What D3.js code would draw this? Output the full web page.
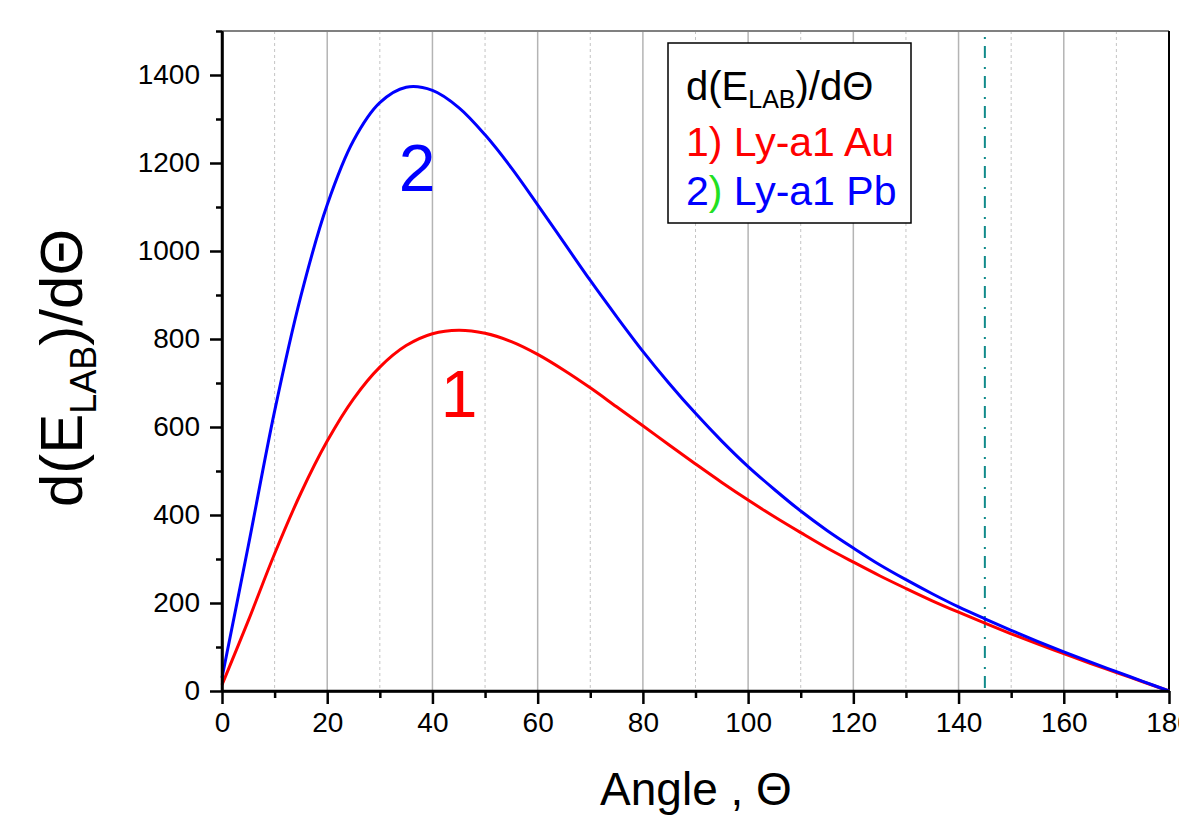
<!DOCTYPE html>
<html>
<head>
<meta charset="utf-8">
<script src="https://cdn.jsdelivr.net/npm/d3@7"></script>
<style>
  html, body { margin: 0; padding: 0; background: #fff; }
  svg { display: block; font-family: "Liberation Sans", Arial, sans-serif; }
</style>
</head>
<body>
<svg id="chart" width="1179" height="819"></svg>
<script>
// ---- data ----
const angles = [0,5,10,15,20,25,30,35,40,45,50,55,60,65,70,75,80,85,90,95,100,105,110,115,120,125,130,135,140,145,150,155,160,165,170,175,180];
const auValues = [14,160,312,450,568,664,736,785,812,820,813,794,765,729,689,646,603,559,516,474,434,396,360,325,293,262,233,205,179,154,130,107,85,63,42,21,0];
const pbValues = [30,330,636,898,1105,1251,1337,1372,1365,1326,1264,1189,1105,1019,933,851,772,699,631,568,510,458,409,365,325,287,253,221,191,164,138,113,89,66,44,22,0];
const xTicks = [0,20,40,60,80,100,120,140,160,180];
const xMinorTicks = [10,30,50,70,90,110,130,150,170];
const yTicks = [0,200,400,600,800,1000,1200,1400];
const yMinorTicks = [100,300,500,700,900,1100,1300,1500];
const markerAngle = [145];
const legendTitle = "d(E";
const legendEntries = ["1) Ly-a1 Au", "2) Ly-a1 Pb"];

// ---- layout ----
const svg = d3.select("#chart");
const L = 222, R = 1169, T = 31, B = 691;
const x = d3.scaleLinear().domain([0,180]).range([L,R]);
const y = d3.scaleLinear().domain([0,1500]).range([B,T]);

// grid lines
svg.append("g").selectAll("line").data(xMinorTicks).join("line")
  .attr("x1", d => x(d)).attr("x2", d => x(d)).attr("y1", T).attr("y2", B)
  .attr("stroke", "#c4c4c4").attr("stroke-width", 1).attr("stroke-dasharray", "3,3");
svg.append("g").selectAll("line").data(xTicks.filter(d => d > 0 && d < 180)).join("line")
  .attr("x1", d => x(d)).attr("x2", d => x(d)).attr("y1", T).attr("y2", B)
  .attr("stroke", "#b4b4b4").attr("stroke-width", 1.5);

// frame: top (gray), right (black)
svg.append("line").attr("x1", L).attr("x2", R).attr("y1", T).attr("y2", T)
  .attr("stroke", "#808080").attr("stroke-width", 2);
svg.append("line").attr("x1", R).attr("x2", R).attr("y1", T).attr("y2", B)
  .attr("stroke", "#000").attr("stroke-width", 2);

// vertical dash-dot marker
svg.append("g").selectAll("line").data(markerAngle).join("line")
  .attr("x1", d => x(d)).attr("x2", d => x(d)).attr("y1", 37).attr("y2", B)
  .attr("stroke", "#108a8a").attr("stroke-width", 2).attr("stroke-dasharray", "2,7,12,9");

// curves
const line = d3.line().x((d,i) => x(angles[i])).y(d => y(d)).curve(d3.curveCatmullRom.alpha(0.5));
svg.append("path").datum(auValues).attr("d", line)
  .attr("fill", "none").attr("stroke", "#ff0000").attr("stroke-width", 3);
svg.append("path").datum(pbValues).attr("d", line)
  .attr("fill", "none").attr("stroke", "#0000ff").attr("stroke-width", 3);

// axes
const fontSize = 28;
const xAxis = svg.append("g").attr("transform", `translate(0,${B})`)
  .call(d3.axisBottom(x).tickValues(xTicks).tickFormat(d3.format("d")).tickSize(13).tickSizeOuter(0).tickPadding(8));
const xMinor = svg.append("g").attr("transform", `translate(0,${B})`)
  .call(d3.axisBottom(x).tickValues(xMinorTicks).tickFormat("").tickSize(7).tickSizeOuter(0));
const yAxis = svg.append("g").attr("transform", `translate(${L},0)`)
  .call(d3.axisLeft(y).tickValues(yTicks).tickFormat(d3.format("d")).tickSize(12).tickSizeOuter(0).tickPadding(10));
const yMinor = svg.append("g").attr("transform", `translate(${L},0)`)
  .call(d3.axisLeft(y).tickValues(yMinorTicks).tickFormat("").tickSize(6).tickSizeOuter(0));

[xAxis, xMinor, yAxis, yMinor].forEach(g => {
  g.select(".domain").attr("stroke", "#000").attr("stroke-width", 2.5);
  g.selectAll(".tick line").attr("stroke", "#000").attr("stroke-width", 2.5);
  g.selectAll(".tick text").attr("fill", "#000").attr("font-size", fontSize)
    .attr("font-family", "'Liberation Sans', Arial, sans-serif");
});
xMinor.select(".domain").remove();
yMinor.select(".domain").remove();
svg.append("line").attr("x1", L).attr("x2", L).attr("y1", T).attr("y2", B)
  .attr("stroke", "#000").attr("stroke-width", 2.5);
svg.append("line").attr("x1", L).attr("x2", R).attr("y1", B).attr("y2", B)
  .attr("stroke", "#000").attr("stroke-width", 2.5);

// curve labels
svg.append("text").attr("x", 417).attr("y", 191).attr("text-anchor", "middle")
  .attr("font-size", 66).attr("fill", "#0000ff").text("2");
svg.append("text").attr("x", 459).attr("y", 417).attr("text-anchor", "middle")
  .attr("font-size", 66).attr("fill", "#ff0000").text("1");

// legend
svg.append("rect").attr("x", 668).attr("y", 43).attr("width", 243).attr("height", 180)
  .attr("fill", "#fff").attr("stroke", "#000").attr("stroke-width", 1.5);
const lt = svg.append("text").attr("x", 686).attr("y", 100).attr("font-size", 40).attr("fill", "#000");
lt.append("tspan").text(legendTitle);
lt.append("tspan").attr("font-size", 25).attr("dy", 8).text("LAB");
lt.append("tspan").attr("dy", -8).text(")/dΘ");

svg.append("text").attr("x", 686).attr("y", 156).attr("font-size", 41).attr("fill", "#ff0000")
  .text(legendEntries[0]);
const l2 = svg.append("text").attr("x", 686).attr("y", 205).attr("font-size", 41).attr("fill", "#0000ff");
l2.append("tspan").text(legendEntries[1].slice(0,1));
l2.append("tspan").attr("fill", "#22e022").text(legendEntries[1].slice(1,2));
l2.append("tspan").text(legendEntries[1].slice(2));

// axis titles
const yt = svg.append("text").attr("transform", "translate(82,368) rotate(-90)")
  .attr("text-anchor", "middle").attr("font-size", 60).attr("fill", "#000");
yt.append("tspan").text("d(E");
yt.append("tspan").attr("font-size", 36).attr("dy", 14).text("LAB");
yt.append("tspan").attr("dy", -14).text(")/dΘ");

svg.append("text").attr("x", 696).attr("y", 805).attr("text-anchor", "middle")
  .attr("font-size", 46).attr("fill", "#000").text("Angle , Θ");
</script>
</body>
</html>
